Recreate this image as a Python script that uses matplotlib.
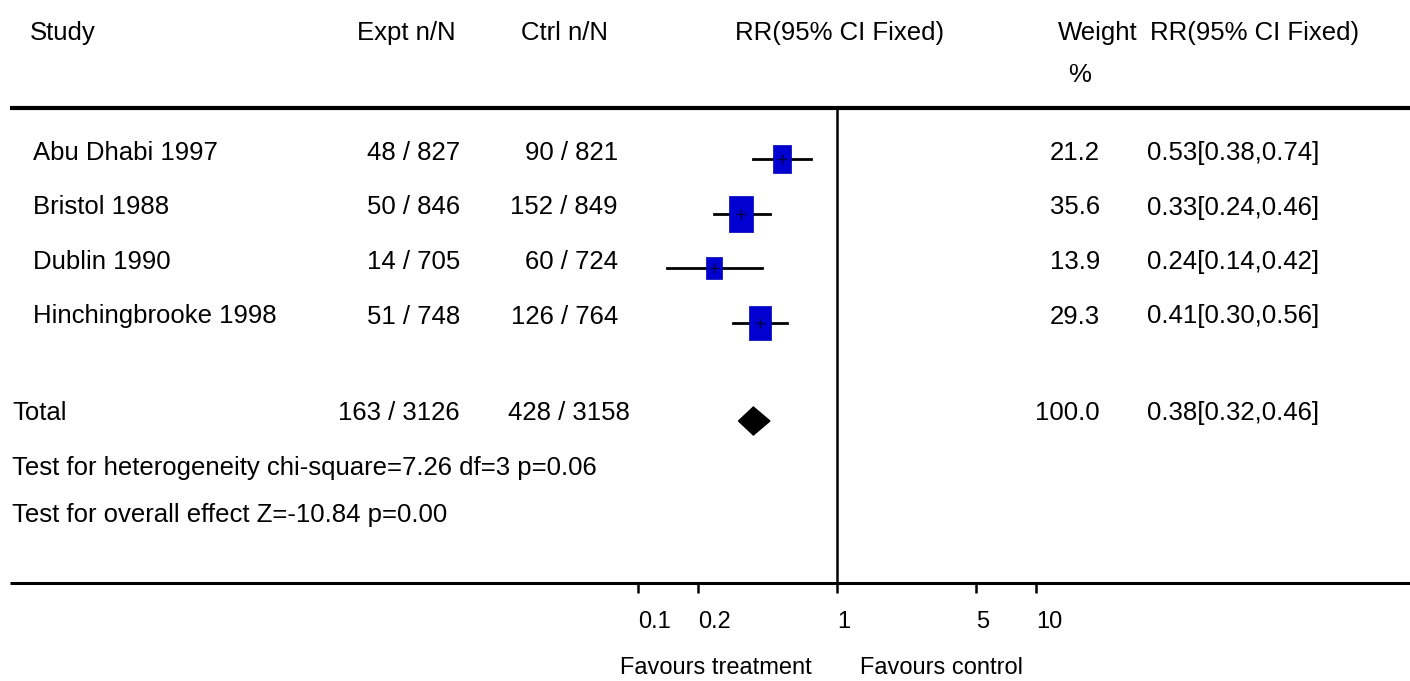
import matplotlib
matplotlib.use('Agg')
import matplotlib.pyplot as plt
from matplotlib.ticker import NullLocator
import numpy as np

studies = ['Abu Dhabi 1997', 'Bristol 1988', 'Dublin 1990', 'Hinchingbrooke 1998']
expt_n = [48, 50, 14, 51]
expt_N = [827, 846, 705, 748]
ctrl_n = [90, 152, 60, 126]
ctrl_N = [821, 849, 724, 764]
rr = [0.53, 0.33, 0.24, 0.41]
rr_lo = [0.38, 0.24, 0.14, 0.30]
rr_hi = [0.74, 0.46, 0.42, 0.56]
weights = [21.2, 35.6, 13.9, 29.3]

total_expt = (163, 3126)
total_ctrl = (428, 3158)
total_rr, total_lo, total_hi = 0.38, 0.32, 0.46
total_weight = 100.0

het_text = 'Test for heterogeneity chi-square=7.26 df=3 p=0.06'
eff_text = 'Test for overall effect Z=-10.84 p=0.00'
xticks = [0.1, 0.2, 1, 5, 10]
xticklabels = ['0.1', '0.2', '1', '5', '10']

plt.rcParams['font.family'] = ['Liberation Sans', 'DejaVu Sans']
FS = 18.5

W, H = 1410, 681
fig = plt.figure(figsize=(W / 100, H / 100), dpi=100)

# text layer in pixel coordinates
tx = fig.add_axes([0, 0, 1, 1])
tx.set_xlim(0, W)
tx.set_ylim(H, 0)
tx.axis('off')

# forest layer, log scale, x from pixel 638 (0.1) to 1036 (10)
top_y, bot_y = 108, 583
fx = fig.add_axes([638 / W, 1 - bot_y / H, (1036 - 638) / W, (bot_y - top_y) / H])
fx.set_xscale('log')
fx.set_xlim(0.1, 10)
fx.set_ylim(bot_y, top_y)
fx.patch.set_alpha(0)
for s in fx.spines.values():
    s.set_visible(False)

row_y = [159 + 54.5 * i for i in range(len(studies))]
total_y = 421

# header
hy = 33
tx.text(30, hy, 'Study', fontsize=FS, va='center')
tx.text(357, hy, 'Expt n/N', fontsize=FS, va='center')
tx.text(521, hy, 'Ctrl n/N', fontsize=FS, va='center')
tx.text(735, hy, 'RR(95% CI Fixed)', fontsize=FS, va='center')
tx.text(1058, hy, 'Weight', fontsize=FS, va='center')
tx.text(1068, 75, '%', fontsize=FS, va='center')
tx.text(1150, hy, 'RR(95% CI Fixed)', fontsize=FS, va='center')

# lines
tx.plot([10, W], [top_y, top_y], color='black', lw=3, solid_capstyle='butt')
tx.plot([10, W], [bot_y, bot_y], color='black', lw=2.2, solid_capstyle='butt')
fx.plot([1, 1], [top_y, bot_y], color='black', lw=1.8)

# study rows
box = [(-0.33, -0.5), (0.33, -0.5), (0.33, 0.5), (-0.33, 0.5), (-0.33, -0.5)]
for i, name in enumerate(studies):
    y = row_y[i] - 6
    tx.text(33, y, name, fontsize=FS, va='center')
    tx.text(460, y, f'{expt_n[i]} / {expt_N[i]}', fontsize=FS, va='center', ha='right')
    tx.text(618, y, f'{ctrl_n[i]} / {ctrl_N[i]}', fontsize=FS, va='center', ha='right')
    tx.text(1100, y, f'{weights[i]:.1f}', fontsize=FS, va='center', ha='right')
    tx.text(1147, y, f'{rr[i]:.2f}[{rr_lo[i]:.2f},{rr_hi[i]:.2f}]', fontsize=FS, va='center')

    fx.plot([rr_lo[i], rr_hi[i]], [row_y[i], row_y[i]], color='black', lw=2)
    fx.plot(rr[i], row_y[i], marker=box, markersize=4.4 * np.sqrt(weights[i]),
            color='#0000d0', markeredgecolor='#0000b0', markeredgewidth=0.5, zorder=3)
    fx.plot(rr[i], row_y[i], marker='+', markersize=7, color='#000044', mew=1, zorder=4)

# total row
ty = total_y - 8
tx.text(12, ty, 'Total', fontsize=FS, va='center')
tx.text(460, ty, f'{total_expt[0]} / {total_expt[1]}', fontsize=FS, va='center', ha='right')
tx.text(630, ty, f'{total_ctrl[0]} / {total_ctrl[1]}', fontsize=FS, va='center', ha='right')
tx.text(1100, ty, f'{total_weight:.1f}', fontsize=FS, va='center', ha='right')
tx.text(1147, ty, f'{total_rr:.2f}[{total_lo:.2f},{total_hi:.2f}]', fontsize=FS, va='center')

dh = 14
fx.fill([total_lo, total_rr, total_hi, total_rr],
        [total_y, total_y - dh, total_y, total_y + dh], color='black', zorder=3)

tx.text(12, 468, het_text, fontsize=FS, va='center')
tx.text(12, 515, eff_text, fontsize=FS, va='center')

# axis ticks
fx.xaxis.set_minor_locator(NullLocator())
fx.set_xticks(xticks, xticklabels)
fx.tick_params(axis='x', direction='out', length=7, width=1.8, pad=13, labelsize=17)
for lab in fx.get_xticklabels():
    lab.set_horizontalalignment('left')
fx.set_yticks([])

tx.text(716, 668, 'Favours treatment', fontsize=17, va='center', ha='center')
tx.text(941, 668, 'Favours control', fontsize=17, va='center', ha='center')

fig.savefig('out.png', dpi=100)
